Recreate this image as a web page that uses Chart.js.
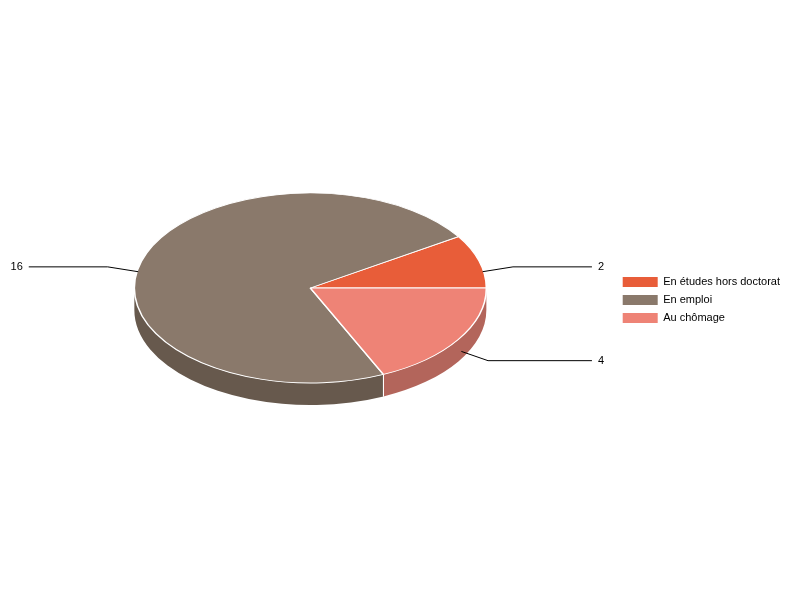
<!DOCTYPE html>
<html>
<head>
<meta charset="utf-8">
<script src="https://cdn.jsdelivr.net/npm/chart.js@4.4.1/dist/chart.umd.min.js"></script>
<style>
  html, body { margin: 0; padding: 0; background: #fff; }
  #wrap { width: 800px; height: 600px; }
</style>
</head>
<body>
<div id="wrap"><canvas id="pie"></canvas></div>
<script>
// ---- données ----
const categories = ['En études hors doctorat', 'En emploi', 'Au chômage']
const counts = [2, 16, 4]

// ---- styles ----
const topColors = ['#E85D39', '#8A796B', '#EE8376']
const sideColors = ['#A9462C', '#67594D', '#B3655B']
const FONT = 'Liberation Sans, Arial, sans-serif'
const TILT = 0.54   // écrasement vertical de l'ellipse
const DEPTH = 22    // épaisseur du camembert
const LIFT = 12     // remonte la face du dessus

// effet 3D : côtés dessinés avant, face écrasée, étiquettes après
const pie3d = {
  id: 'pie3d',
  beforeDatasetsDraw(chart) {
    const ctx = chart.ctx
    const arcs = chart.getDatasetMeta(0).data
    const a0 = arcs[0]
    const cx = a0.x, cy = a0.y - LIFT, r = a0.outerRadius
    const seams = []
    arcs.forEach((arc, i) => {
      for (let k = -1; k <= 1; k++) {
        const from = Math.PI + 2 * Math.PI * k, to = 2 * Math.PI + 2 * Math.PI * k
        const lo = Math.max(arc.startAngle, from)
        const hi = Math.min(arc.endAngle, to)
        if (hi <= lo) continue
        ctx.beginPath()
        ctx.ellipse(cx, cy, r, r * TILT, 0, -lo, -hi, true)
        ctx.ellipse(cx, cy + DEPTH, r, r * TILT, 0, -hi, -lo, false)
        ctx.closePath()
        ctx.fillStyle = sideColors[i]
        ctx.fill()
        if (lo > from + 1e-6) seams.push(lo)
        if (hi < to - 1e-6) seams.push(hi)
      }
    })
    ctx.save()
    ctx.strokeStyle = '#fff'
    ctx.lineWidth = 1
    seams.forEach((t) => {
      const x = cx + r * Math.cos(t), y = cy - r * TILT * Math.sin(t)
      ctx.beginPath(); ctx.moveTo(x, y); ctx.lineTo(x, y + DEPTH); ctx.stroke()
    })
    ctx.restore()
    // face du dessus : on écrase le repère autour du centre
    ctx.save()
    ctx.translate(cx, cy)
    ctx.scale(1, -TILT)
    ctx.translate(-a0.x, -a0.y)
  },
  afterDatasetsDraw(chart) {
    const ctx = chart.ctx
    ctx.restore()
    const arcs = chart.getDatasetMeta(0).data
    const a0 = arcs[0]
    const cx = a0.x, cy = a0.y - LIFT, r = a0.outerRadius
    ctx.save()
    ctx.strokeStyle = '#000'
    ctx.lineWidth = 1
    ctx.fillStyle = '#000'
    ctx.font = '11px ' + FONT
    ctx.textBaseline = 'middle'
    arcs.forEach((arc, i) => {
      const mid = (arc.startAngle + arc.endAngle) / 2
      const c = Math.cos(mid), s = Math.sin(mid)
      const ax = cx + r * 1.02 * c, ay = cy - r * TILT * 1.02 * s + DEPTH / 2
      const ex = cx + r * 1.2 * c, ey = cy - r * TILT * 1.2 * s + DEPTH / 2
      const right = c >= 0
      const lx = right ? cx + r * 1.6 : cx - r * 1.6
      ctx.beginPath()
      ctx.moveTo(ax, ay); ctx.lineTo(ex, ey); ctx.lineTo(lx, ey)
      ctx.stroke()
      ctx.textAlign = right ? 'left' : 'right'
      ctx.fillText(String(counts[i]), right ? lx + 6 : lx - 6, ey)
    })
    ctx.restore()
  },
}

new Chart(document.getElementById('pie'), {
  type: 'pie',
  data: {
    labels: categories,
    datasets: [{
      data: counts,
      backgroundColor: topColors,
      borderColor: '#fff',
      borderWidth: 1.6,
      clip: false,
    }],
  },
  options: {
    responsive: true,
    maintainAspectRatio: false,
    animation: false,
    rotation: 90,
    radius: 176,
    layout: { padding: { left: 5, right: 10, top: 0, bottom: 0 } },
    plugins: {
      tooltip: { enabled: false },
      legend: {
        position: 'right',
        align: 'center',
        labels: {
          boxWidth: 35,
          boxHeight: 10,
          padding: 7,
          color: '#000',
          font: { family: FONT, size: 11 },
          generateLabels: (chart) => Chart.overrides.pie.plugins.legend.labels.generateLabels(chart)
            .map((l) => ({ ...l, lineWidth: 0 })),
        },
      },
    },
  },
  plugins: [pie3d],
})
</script>
</body>
</html>
